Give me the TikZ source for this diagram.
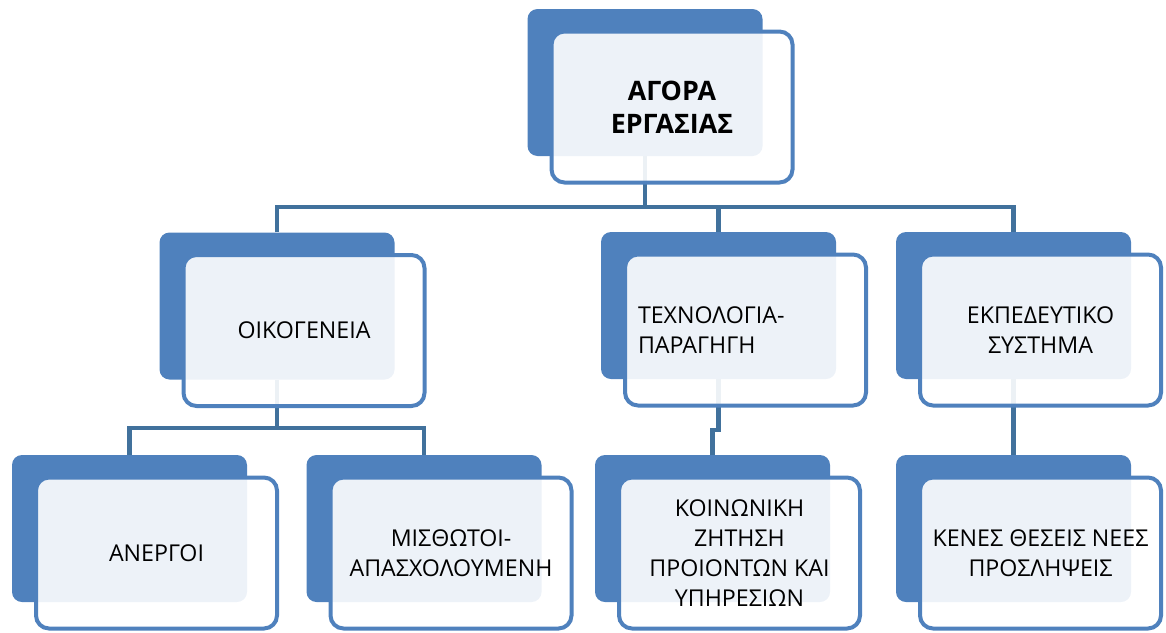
\documentclass[tikz,border=0pt]{standalone}
\usepackage{fontspec}
\setmainfont{Open Sans}
\usetikzlibrary{backgrounds}
\definecolor{boxblue}{HTML}{4F81BD}
\definecolor{lineblue}{HTML}{41719C}
\tikzset{
  backbox/.style={rectangle, rounded corners=10, fill=boxblue, minimum width=235, minimum height=147, inner sep=0},
  frontbox/.style={rectangle, rounded corners=13, draw=boxblue, line width=4, fill=white, fill opacity=0.9, text opacity=1,
    minimum width=241, minimum height=151, align=center, font=\fontsize{23.2}{30}\selectfont},
  conn/.style={draw=lineblue, line width=4.5}
}
\begin{document}
\begin{tikzpicture}[x=1pt, y=-1pt]
	\useasboundingbox (0,0) rectangle (1166,632);

	\node[backbox] (agora) at (645,82.5) {};
	\node[backbox] (oikogeneia) at (277,306) {};
	\node[backbox] (texnologia) at (718.5,305.5) {};
	\node[backbox] (ekpaideusi) at (1013.5,305.5) {};
	\node[backbox] (anergoi) at (129.5,528.5) {};
	\node[backbox] (misthotoi) at (424,528.5) {};
	\node[backbox] (zitisi) at (712.5,528.5) {};
	\node[backbox] (theseis) at (1013.5,528.5) {};

	\node[frontbox, font=\fontsize{26.8}{33}\selectfont\bfseries] (agora-f) at ([shift={(27,24.5)}]agora.center) {ΑΓΟΡΑ\\ΕΡΓΑΣΙΑΣ};
	\node[frontbox] (oikogeneia-f) at ([shift={(27,24.5)}]oikogeneia.center) {ΟΙΚΟΓΕΝΕΙΑ};
	\node[frontbox, text width=215, align=left] (texnologia-f) at ([shift={(27,24.5)}]texnologia.center) {ΤΕΧΝΟΛΟΓΙΑ-\\ΠΑΡΑΓΗΓΗ};
	\node[frontbox] (ekpaideusi-f) at ([shift={(27,24.5)}]ekpaideusi.center) {ΕΚΠΕΔΕΥΤΙΚΟ\\ΣΥΣΤΗΜΑ};
	\node[frontbox] (anergoi-f) at ([shift={(27,24.5)}]anergoi.center) {ΑΝΕΡΓΟΙ};
	\node[frontbox] (misthotoi-f) at ([shift={(27,24.5)}]misthotoi.center) {ΜΙΣΘΩΤΟΙ-\\ΑΠΑΣΧΟΛΟΥΜΕΝΗ};
	\node[frontbox] (zitisi-f) at ([shift={(27,24.5)}]zitisi.center) {ΚΟΙΝΩΝΙΚΗ\\ΖΗΤΗΣΗ\\ΠΡΟΙΟΝΤΩΝ ΚΑΙ\\ΥΠΗΡΕΣΙΩΝ};
	\node[frontbox] (theseis-f) at ([shift={(27,24.5)}]theseis.center) {ΚΕΝΕΣ ΘΕΣΕΙΣ ΝΕΕΣ\\ΠΡΟΣΛΗΨΕΙΣ};

	% connectors behind the boxes
	\coordinate (bar1) at (0,207);
	\coordinate (bar2) at (0,428);
	\coordinate (bar3) at (0,430);
	\begin{scope}[on background layer]
		\draw[conn] (agora.south) -- (agora.south |- bar1);
		\draw[conn] (oikogeneia.north) |- (ekpaideusi.north |- bar1) -- (ekpaideusi.north);
		\draw[conn] (texnologia.north) -- (texnologia.north |- bar1);
		\draw[conn] (oikogeneia.south) -- (oikogeneia.south |- bar2);
		\draw[conn] (anergoi.north) |- (misthotoi.north |- bar2) -- (misthotoi.north);
		\draw[conn] (texnologia.south) |- (zitisi.north |- bar3) -- (zitisi.north);
		\draw[conn] (ekpaideusi.south) -- (theseis.north);
	\end{scope}
\end{tikzpicture}
\end{document}
